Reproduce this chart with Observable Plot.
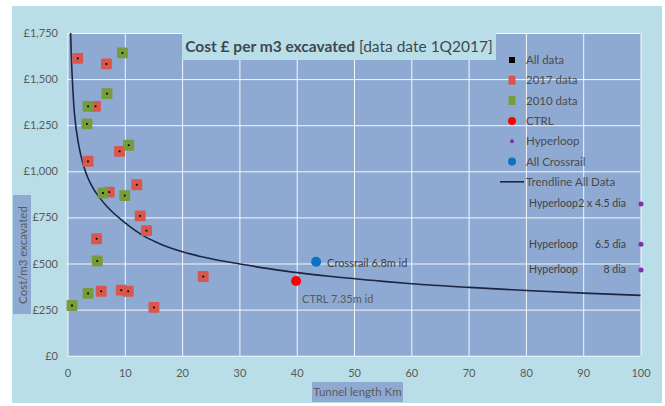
<!DOCTYPE html>
<html><head><meta charset="utf-8">
<script src="https://cdn.jsdelivr.net/npm/d3@7"></script>
<script src="https://cdn.jsdelivr.net/npm/@observablehq/plot@0.6"></script>
<style>
body{margin:0;background:#fff;font-family:Lato,"Liberation Sans",sans-serif;}
#wrap{position:relative;width:665px;height:406px;overflow:hidden}
#panel{position:absolute;left:12px;top:6px;width:650px;height:397px;background:#b9dee8}
#chart{position:absolute;left:0;top:0}
#title{position:absolute;left:182px;top:33px;width:314px;height:27px;background:#b9dee8;color:#3f4850;font-size:15.5px;line-height:27px;text-align:center;white-space:nowrap}
#ylab{position:absolute;left:13px;top:195px;width:18px;height:119px;background:#8faad2}
#ylab span{position:absolute;left:50%;top:50%;transform:translate(-50%,-50%) rotate(-90deg);white-space:nowrap;color:#5a5a5a;font-size:11.5px}
#xlab{position:absolute;left:312px;top:382px;width:91px;height:20px;background:#8faad2;color:#5a5a5a;font-size:11.5px;line-height:20px;text-align:center;white-space:nowrap}
#legend{position:absolute;left:0;top:0;width:665px;height:406px;pointer-events:none}
</style></head>
<body>
<div id="wrap">
  <div id="panel"></div>
  <div id="chart"></div>
  <div id="title"><b>Cost £ per m3 excavated</b> [data date 1Q2017]</div>
  <div id="ylab"><span>Cost/m3 excavated</span></div>
  <div id="xlab">Tunnel length Km</div>
  <svg id="legend" width="665" height="406"></svg>
</div>
<script>
// ---- data ----
const data2017Km   = [1.7, 6.7, 4.8, 9.0, 3.5, 12.0, 7.2, 12.6, 13.7, 5.0, 5.8, 9.3, 10.5, 15.0, 23.6];
const data2017Cost = [1615, 1585, 1355, 1111, 1057, 930, 890, 761, 681, 637, 352, 358, 352, 265, 432];
const data2010Km   = [9.5, 6.8, 3.5, 3.3, 10.6, 6.1, 9.9, 5.1, 3.5, 0.7];
const data2010Cost = [1645, 1424, 1355, 1260, 1144, 885, 871, 516, 341, 275];
const ctrlKm = [39.8], ctrlCost = [408], ctrlLabel = ["CTRL 7.35m id"];
const crossrailKm = [43.3], crossrailCost = [512], crossrailLabel = ["Crossrail 6.8m id"];
const hyperloopKm = [100, 100, 100];
const hyperloopCost = [825, 607, 467];
const hyperloopName = ["Hyperloop", "Hyperloop", "Hyperloop"];
const hyperloopDia = ["2 x 4.5 dia", "6.5 dia", "8 dia"];
const trendKm   = [0.45, 0.6, 0.8, 1.0, 1.3, 1.7, 2.2, 2.8, 3.5, 4.5, 5.5, 7, 9.7, 13.5, 16, 20, 25, 30, 35, 40, 46, 55, 60, 70, 80, 90, 100];
const trendCost = [1760, 1610, 1475, 1365, 1265, 1175, 1095, 1025, 965, 905, 860, 805, 730, 647, 610, 566, 528, 500, 475, 453, 432, 406, 393, 373, 356, 342, 330];
const xTicks = [0, 10, 20, 30, 40, 50, 60, 70, 80, 90, 100];
const yTicks = [0, 250, 500, 750, 1000, 1250, 1500, 1750];
const legendLabels = ["All data", "2017 data", "2010 data", "CTRL", "Hyperloop", "All Crossrail", "Trendline All Data"];

// ---- build tables ----
const d2017 = data2017Km.map((x, i) => ({x, y: data2017Cost[i]}));
const d2010 = data2010Km.map((x, i) => ({x, y: data2010Cost[i]}));
const all = d2017.concat(d2010);
const ctrl = ctrlKm.map((x, i) => ({x, y: ctrlCost[i], label: ctrlLabel[i]}));
const cross = crossrailKm.map((x, i) => ({x, y: crossrailCost[i], label: crossrailLabel[i]}));
const hyper = hyperloopKm.map((x, i) => ({x, y: hyperloopCost[i], name: hyperloopName[i], dia: hyperloopDia[i]}));
const trend = trendKm.map((x, i) => ({x, y: trendCost[i]}));

const RED = "#d9574d", GREEN = "#779c3c", PLOTBG = "#8faad2", TXT = "#5a5a5a";
const FONT = 'Lato,"Liberation Sans",sans-serif';

const chart = Plot.plot({
  width: 665, height: 406,
  marginLeft: 67.5, marginRight: 24.5, marginTop: 33, marginBottom: 50.3,
  style: {background: "transparent", fontFamily: FONT, fontSize: "11px", color: TXT},
  x: {domain: [0, 100]},
  y: {domain: [0, 1750]},
  marks: [
    Plot.frame({fill: PLOTBG, stroke: null}),
    Plot.gridX(xTicks, {stroke: "white", strokeOpacity: 0.9, strokeWidth: 1}),
    Plot.gridY(yTicks, {stroke: "white", strokeOpacity: 0.9, strokeWidth: 1}),
    Plot.axisX(xTicks, {tickSize: 0, tickPadding: 13, label: null, fill: TXT}),
    Plot.axisY(yTicks, {tickSize: 0, tickPadding: 10, label: null, fill: TXT, tickFormat: d => "£" + d3.format(",")(d)}),
    Plot.line(trend, {x: "x", y: "y", curve: "monotone-x", stroke: "#1c2640", strokeWidth: 1.6, clip: true}),
    Plot.dot(d2017, {x: "x", y: "y", symbol: "square", r: 5, fill: RED, stroke: RED, strokeWidth: 2, strokeLinejoin: "round"}),
    Plot.dot(d2010, {x: "x", y: "y", symbol: "square", r: 5, fill: GREEN, stroke: GREEN, strokeWidth: 2, strokeLinejoin: "round"}),
    Plot.dot(all, {x: "x", y: "y", symbol: "square", r: 1, fill: "black"}),
    Plot.dot(ctrl, {x: "x", y: "y", r: 5, fill: "#ff0000"}),
    Plot.dot(cross, {x: "x", y: "y", r: 5, fill: "#0b72c4"}),
    Plot.dot(hyper, {x: "x", y: "y", r: 2.5, fill: "#7a33a8"}),
    Plot.text(ctrl, {x: "x", y: "y", text: "label", textAnchor: "start", dx: 6, dy: 19, fill: TXT, fontSize: 11}),
    Plot.text(cross, {x: "x", y: "y", text: "label", textAnchor: "start", dx: 11, dy: 2, fill: "#404040", fontSize: 11}),
    Plot.text(hyper, {x: "x", y: "y", text: "name", textAnchor: "start", dx: -112, fill: "#404040", fontSize: 10.5}),
    Plot.text(hyper, {x: "x", y: "y", text: "dia", textAnchor: "end", dx: -15, fill: "#404040", fontSize: 10.5})
  ]
});
document.getElementById("chart").appendChild(chart);

// ---- legend ----
const lg = d3.select("#legend");
const lx = 512, ly0 = 60, step = 20.3;
legendLabels.forEach((t, i) => {
  const y = ly0 + i * step;
  if (i === 0) lg.append("rect").attr("x", lx - 3).attr("y", y - 3).attr("width", 6).attr("height", 6).attr("fill", "black");
  if (i === 1) lg.append("rect").attr("x", lx - 3.5).attr("y", y - 4.5).attr("width", 7).attr("height", 9).attr("rx", 1).attr("fill", RED);
  if (i === 2) lg.append("rect").attr("x", lx - 3.5).attr("y", y - 4.5).attr("width", 7).attr("height", 9).attr("rx", 1).attr("fill", GREEN);
  if (i === 3) lg.append("circle").attr("cx", lx).attr("cy", y).attr("r", 4).attr("fill", "#ff0000");
  if (i === 4) lg.append("circle").attr("cx", lx).attr("cy", y).attr("r", 2).attr("fill", "#7a33a8");
  if (i === 5) lg.append("circle").attr("cx", lx).attr("cy", y).attr("r", 4).attr("fill", "#0b72c4");
  if (i === 6) lg.append("line").attr("x1", lx - 12).attr("x2", lx + 12).attr("y1", y).attr("y2", y).attr("stroke", "#1c2640").attr("stroke-width", 1.6);
  lg.append("text").attr("x", 526).attr("y", y).attr("dy", "0.35em").attr("fill", "#4a4a4a")
    .attr("font-family", FONT).attr("font-size", 11.5).text(t);
});
</script>
</body></html>
